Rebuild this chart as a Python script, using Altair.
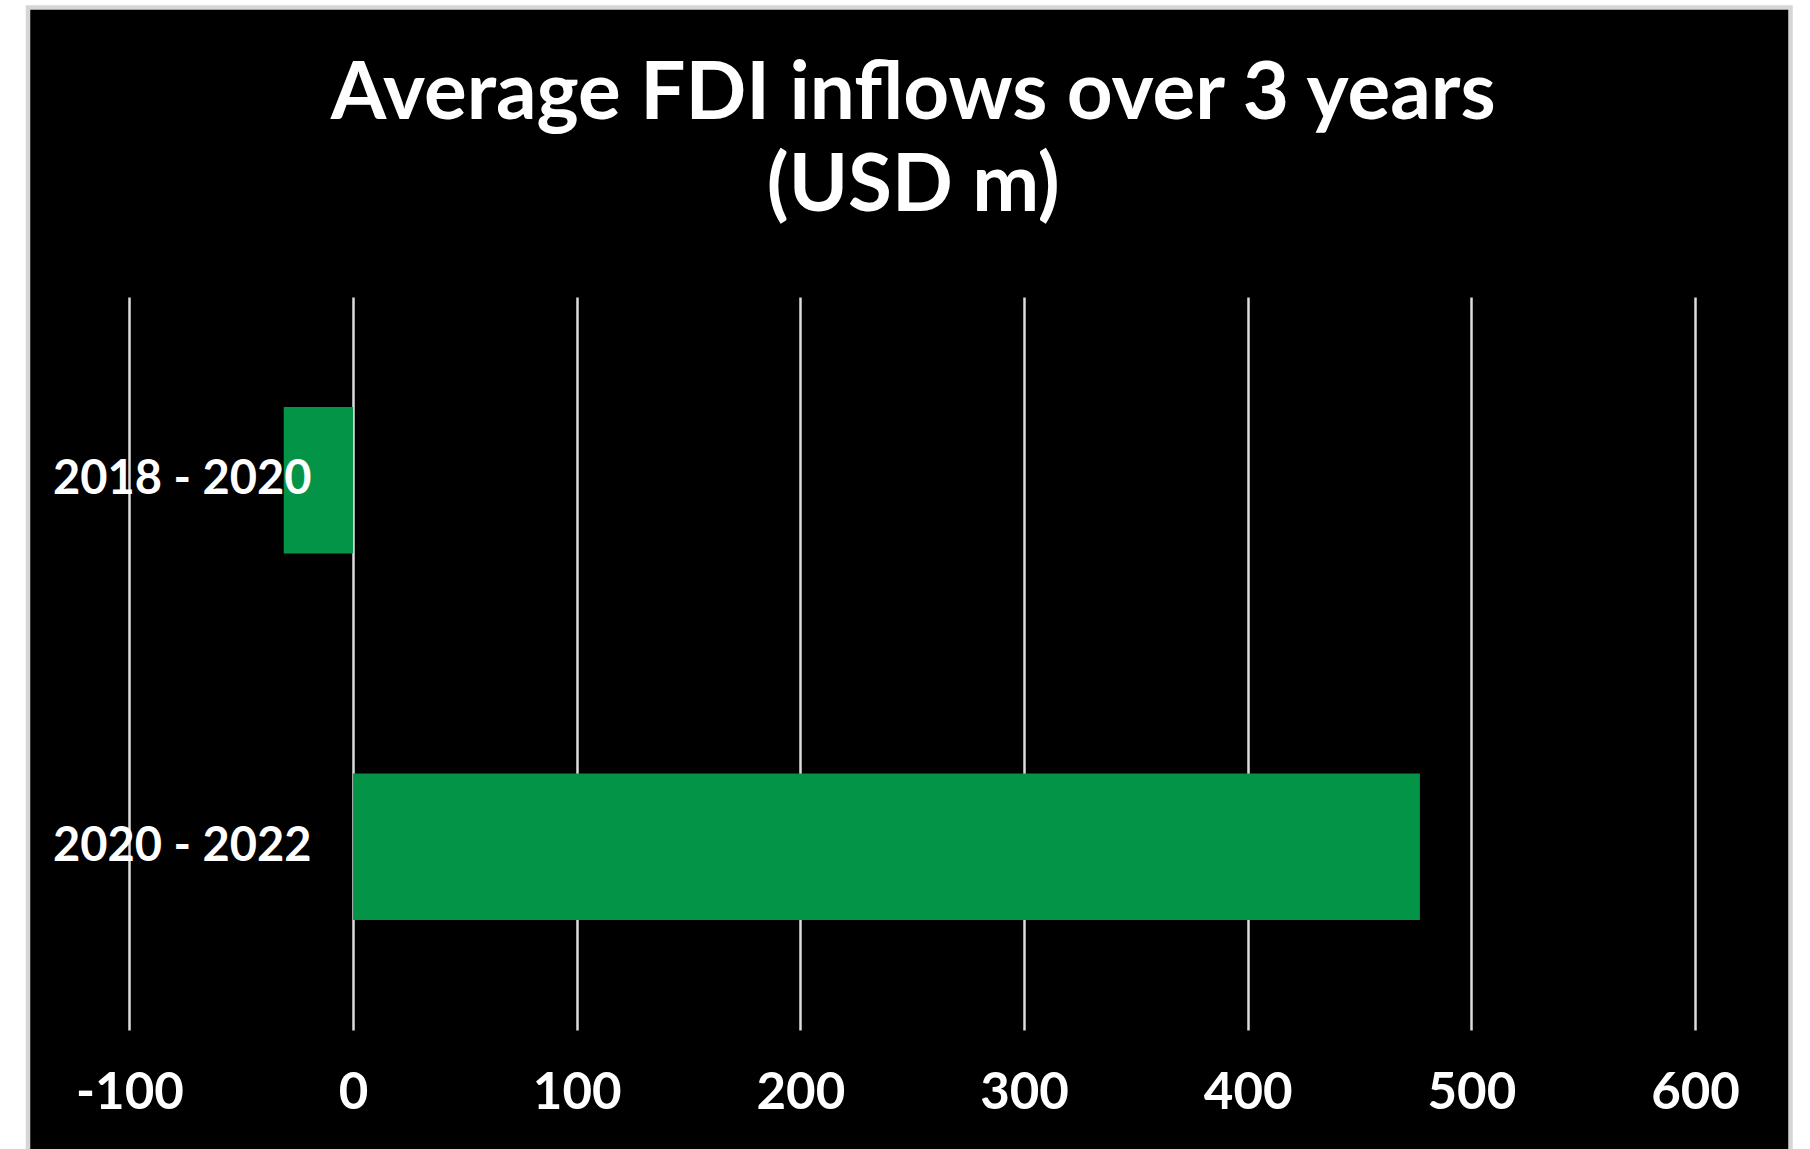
import altair as alt
import pandas as pd

# Three-year average FDI inflows (USD m)
PERIODS = ["2018 - 2020", "2020 - 2022"]
FDI_AVG = [-31, 477]
X_TICKS = [-100, 0, 100, 200, 300, 400, 500, 600]
TITLE_LINES = ["Average FDI inflows over 3 years", "(USD m)"]

df = pd.DataFrame({"period": PERIODS, "fdi": FDI_AVG})

FONT = "Lato"
W, H = 1762.5, 1152.5

bars = (
    alt.Chart(df)
    .mark_bar(color="#039447")
    .encode(
        x=alt.X(
            "fdi:Q",
            scale=alt.Scale(domain=[-100, 600], range=[101.4, 1667], nice=False, zero=False),
            axis=alt.Axis(
                values=X_TICKS,
                title=None,
                grid=False,
                domain=False,
                ticks=True,
                tickSize=733,
                tickWidth=2.5,
                tickColor="#dcdcdc",
                offset=289.5 - H,
                labelPadding=78,
                labelBaseline="alphabetic",
                labelFlush=False,
                labelOverlap=False,
                labelExpr="'' + datum.value",
                labelFont=FONT,
                labelFontSize=51,
                labelFontWeight="bold",
                labelColor="white",
                zindex=0,
            ),
        ),
        y=alt.Y(
            "period:N",
            sort=PERIODS,
            scale=alt.Scale(range=[289.5, 1022.5], paddingInner=0.6, paddingOuter=0.3),
            axis=alt.Axis(
                title=None,
                grid=False,
                domain=False,
                ticks=False,
                tickSize=0,
                offset=-283,
                labelPadding=0,
                labelAlign="right",
                labelBaseline="middle",
                labelLimit=0,
                labelFont=FONT,
                labelFontSize=47,
                labelFontWeight="bold",
                labelColor="white",
                zindex=1,
            ),
        ),
    )
)

chart = (
    bars.properties(
        width=W,
        height=H,
        autosize=alt.AutoSizeParams(type="none"),
        padding={"left": 28, "top": 7.5, "right": 19.5, "bottom": -11},
        background="white",
        title=alt.TitleParams(
            text=TITLE_LINES,
            font=FONT,
            fontSize=80,
            fontWeight="bold",
            color="white",
            anchor="middle",
            frame="group",
            orient="top",
            baseline="alphabetic",
            lineHeight=92,
            offset=-283.5,
            dx=4,
            zindex=1,
        ),
    )
    .configure_view(fill="black", stroke="#d6d6d6", strokeWidth=4.5)
)

chart.save("out.html", embed_options={"renderer": "svg", "actions": False})
